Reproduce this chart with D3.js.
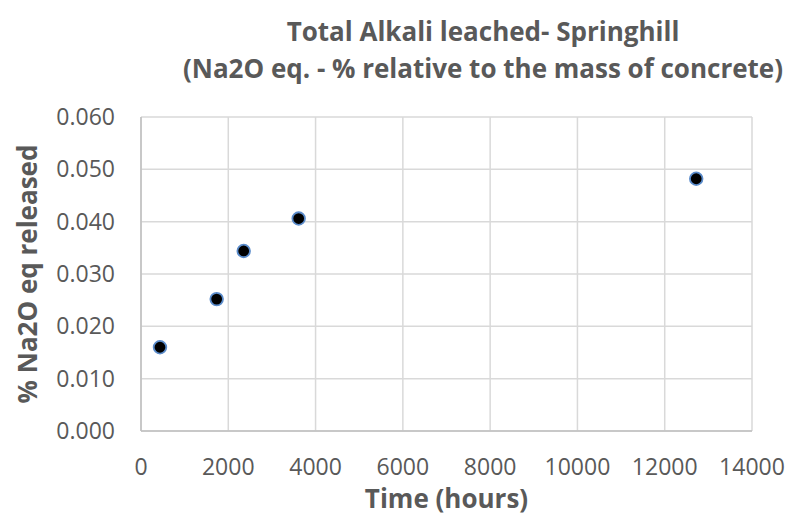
<!DOCTYPE html>
<html><head><meta charset="utf-8">
<script src="https://cdn.jsdelivr.net/npm/d3@7"></script>
<style>body{margin:0;background:#fff}svg{display:block}text{font-family:"Open Sans","Lato",sans-serif;fill:#595959}</style>
</head><body>
<script>
const timeHours = [435, 1734, 2353, 3613, 12722];
const na2oReleased = [0.0160, 0.0252, 0.0344, 0.0406, 0.0482];
const xTicks = [0, 2000, 4000, 6000, 8000, 10000, 12000, 14000];
const yTicks = [0, 0.01, 0.02, 0.03, 0.04, 0.05, 0.06];
const titleLines = ["Total Alkali leached- Springhill", "(Na2O eq. - % relative to the mass of concrete)"];
const xTitle = "Time (hours)";
const yTitle = "% Na2O eq released";

const W = 794, H = 521;
const m = {l:141, r:42, t:117, b:90};
const svg = d3.select("body").append("svg").attr("width", W).attr("height", H);
const x = d3.scaleLinear().domain([0, 14000]).range([m.l, W - m.r]);
const y = d3.scaleLinear().domain([0, 0.06]).range([H - m.b, m.t]);

// gridlines
svg.append("g").selectAll("line").data(yTicks).join("line")
  .attr("x1", m.l).attr("x2", W - m.r).attr("y1", d => y(d)).attr("y2", d => y(d))
  .attr("stroke", "#d9d9d9").attr("stroke-width", 1.5);
svg.append("g").selectAll("line").data(xTicks).join("line")
  .attr("y1", m.t).attr("y2", H - m.b).attr("x1", d => x(d)).attr("x2", d => x(d))
  .attr("stroke", "#d9d9d9").attr("stroke-width", 1.5);
// axis lines
svg.append("line").attr("x1", m.l).attr("x2", m.l).attr("y1", m.t).attr("y2", H - m.b).attr("stroke", "#bfbfbf").attr("stroke-width", 1.5);
svg.append("line").attr("x1", m.l).attr("x2", W - m.r).attr("y1", H - m.b).attr("y2", H - m.b).attr("stroke", "#bfbfbf").attr("stroke-width", 1.5);

// tick labels
svg.append("g").selectAll("text").data(yTicks).join("text")
  .attr("x", 115).attr("y", d => y(d)).attr("dy", "0.35em").attr("text-anchor", "end")
  .style("font-size", "23px").text(d => d3.format(".3f")(d));
svg.append("g").selectAll("text").data(xTicks).join("text")
  .attr("x", d => x(d)).attr("y", 475).attr("text-anchor", "middle")
  .style("font-size", "23px").text(d => d);

// points
svg.append("g").selectAll("circle").data(timeHours).join("circle")
  .attr("cx", d => x(d)).attr("cy", (d, i) => y(na2oReleased[i])).attr("r", 6.3)
  .attr("fill", "#000").attr("stroke", "#5b8ccb").attr("stroke-width", 1.8);

// titles
svg.append("g").selectAll("text").data(titleLines).join("text")
  .attr("x", 483).attr("y", (d, i) => 41 + i * 37).attr("text-anchor", "middle")
  .style("font-size", "26px").style("font-weight", "bold").text(d => d);
svg.append("text").attr("x", x(7000)).attr("y", 508).attr("text-anchor", "middle")
  .style("font-size", "26px").style("font-weight", "bold").text(xTitle);
svg.append("text").attr("transform", `translate(37,${y(0.03)}) rotate(-90)`).attr("text-anchor", "middle")
  .style("font-size", "26px").style("font-weight", "bold").text(yTitle);
</script>
</body></html>
